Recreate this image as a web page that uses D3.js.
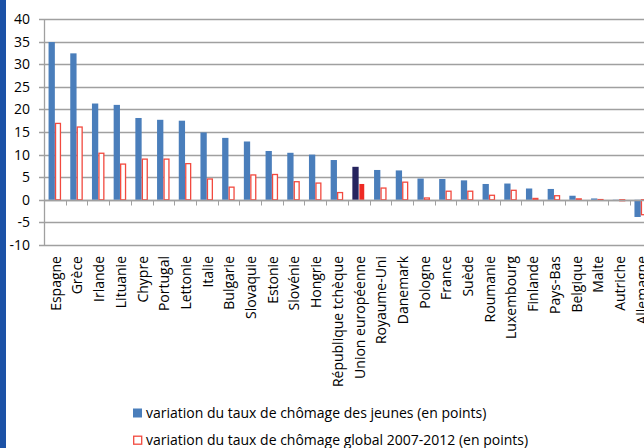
<!DOCTYPE html>
<html>
<head>
<meta charset="utf-8">
<script src="https://cdn.jsdelivr.net/npm/d3@7"></script>
<style>
html, body { margin: 0; padding: 0; background: #fff; }
svg { display: block; font-family: 'Open Sans', sans-serif; }
</style>
</head>
<body>
<div id="chart"></div>
<script>
var countries = ['Espagne', 'Grèce', 'Irlande', 'Lituanie', 'Chypre', 'Portugal', 'Lettonie', 'Italie',
	'Bulgarie', 'Slovaquie', 'Estonie', 'Slovénie', 'Hongrie', 'République tchèque', 'Union européenne',
	'Royaume-Uni', 'Danemark', 'Pologne', 'France', 'Suède', 'Roumanie', 'Luxembourg', 'Finlande',
	'Pays-Bas', 'Belgique', 'Malte', 'Autriche', 'Allemagne'];
var jeunes = [34.9, 32.4, 21.3, 21.0, 18.1, 17.7, 17.5, 14.9,
	13.7, 12.9, 10.8, 10.4, 10.0, 8.8, 7.3,
	6.6, 6.5, 4.7, 4.6, 4.3, 3.5, 3.6, 2.5,
	2.4, 0.9, 0.3, 0.05, -3.8];
var global = [16.9, 16.1, 10.3, 7.9, 9.0, 9.0, 8.0, 4.6,
	2.8, 5.5, 5.6, 4.0, 3.7, 1.6, 3.5,
	2.6, 3.9, 0.4, 1.9, 1.9, 1.0, 2.1, 0.3,
	0.9, 0.2, 0.05, -0.2, -3.3];
var yTicks = [-10, -5, 0, 5, 10, 15, 20, 25, 30, 35, 40];
var legendLabels = ['variation du taux de chômage des jeunes (en points)',
	'variation du taux de chômage global 2007-2012 (en points)'];
var highlight = 'Union européenne';

(function() {
	var width = 644, height = 448;
	var left = 44, top = 19, bottom = 245;
	var band = 21.7;

	var svg = d3.select('#chart').append('svg')
		.attr('width', width)
		.attr('height', height);

	// blue strip on the left border
	svg.append('rect')
		.attr('x', 0).attr('y', 0)
		.attr('width', 6).attr('height', height)
		.attr('fill', '#1c52a6');

	var y = d3.scaleLinear().domain([-10, 40]).range([bottom, top]);
	var x = d3.scaleBand().domain(countries).range([left, left + band * countries.length]);
	var x1 = d3.scaleBand().domain(['jeunes', 'global'])
		.range([x.bandwidth() * 0.21, x.bandwidth() * 0.79]);

	// grid
	svg.append('g').selectAll('line')
		.data(yTicks)
		.enter()
		.append('line')
		.attr('x1', left - 5)
		.attr('x2', width)
		.attr('y1', function(d) { return Math.round(y(d)) + 0.5; })
		.attr('y2', function(d) { return Math.round(y(d)) + 0.5; })
		.attr('stroke', '#a0a0a0')
		.attr('stroke-width', 1.3);

	svg.append('line')
		.attr('x1', left + 0.5).attr('x2', left + 0.5)
		.attr('y1', y(40)).attr('y2', y(-10))
		.attr('stroke', '#a0a0a0')
		.attr('stroke-width', 1.3);

	svg.append('g').selectAll('text')
		.data(yTicks)
		.enter()
		.append('text')
		.attr('x', 30)
		.attr('y', function(d) { return y(d); })
		.attr('dy', '0.35em')
		.attr('text-anchor', 'end')
		.attr('font-size', 14)
		.attr('fill', '#000')
		.text(function(d) { return d; });

	// bars
	var groups = svg.append('g').selectAll('g')
		.data(countries)
		.enter()
		.append('g')
		.attr('transform', function(d) { return 'translate(' + x(d) + ',0)'; });

	groups.append('rect')
		.attr('x', x1('jeunes'))
		.attr('width', x1.bandwidth())
		.attr('y', function(d, i) { return y(Math.max(0, jeunes[i])); })
		.attr('height', function(d, i) { return Math.abs(y(jeunes[i]) - y(0)); })
		.attr('fill', function(d) { return d == highlight ? '#25235e' : '#4a7ebb'; });

	groups.append('rect')
		.attr('x', x1('global') + 0.7)
		.attr('width', x1.bandwidth() - 1.4)
		.attr('y', function(d, i) { return y(Math.max(0, global[i])); })
		.attr('height', function(d, i) { return Math.abs(y(global[i]) - y(0)); })
		.attr('fill', function(d) { return d == highlight ? '#ee2a24' : '#fff'; })
		.attr('stroke', function(d) { return d == highlight ? 'none' : '#f24a3f'; })
		.attr('stroke-width', 1.3);

	// x axis at zero with tick marks between categories
	var y0 = Math.round(y(0)) + 0.5;
	svg.append('line')
		.attr('x1', left).attr('x2', width)
		.attr('y1', y0).attr('y2', y0)
		.attr('stroke', '#a0a0a0')
		.attr('stroke-width', 1.3);
	svg.append('g').selectAll('line')
		.data(countries)
		.enter()
		.append('line')
		.attr('x1', function(d) { return Math.round(x(d) + band) + 0.5; })
		.attr('x2', function(d) { return Math.round(x(d) + band) + 0.5; })
		.attr('y1', y0)
		.attr('y2', y0 + 5)
		.attr('stroke', '#a0a0a0');

	// category labels
	svg.append('g').selectAll('text')
		.data(countries)
		.enter()
		.append('text')
		.attr('transform', function(d) {
			return 'translate(' + (x(d) + x.bandwidth() / 2 + 1) + ',' + 256 + ') rotate(-90)';
		})
		.attr('dy', '0.35em')
		.attr('text-anchor', 'end')
		.attr('font-size', 14)
		.attr('fill', '#000')
		.text(function(d) { return d; });

	// legend
	var legend = svg.append('g').attr('transform', 'translate(133,0)');
	var ly = [413, 440];
	legend.append('rect')
		.attr('x', 0).attr('y', ly[0] - 4.5)
		.attr('width', 9).attr('height', 9)
		.attr('fill', '#4a7ebb');
	legend.append('rect')
		.attr('x', 0.7).attr('y', ly[1] - 3.8)
		.attr('width', 8).attr('height', 8)
		.attr('fill', '#fff')
		.attr('stroke', '#f24a3f')
		.attr('stroke-width', 1.3);
	legend.selectAll('text')
		.data(legendLabels)
		.enter()
		.append('text')
		.attr('x', 13)
		.attr('y', function(d, i) { return ly[i]; })
		.attr('dy', '0.35em')
		.attr('font-size', 14)
		.attr('fill', '#000')
		.text(function(d) { return d; });
})();
</script>
</body>
</html>
